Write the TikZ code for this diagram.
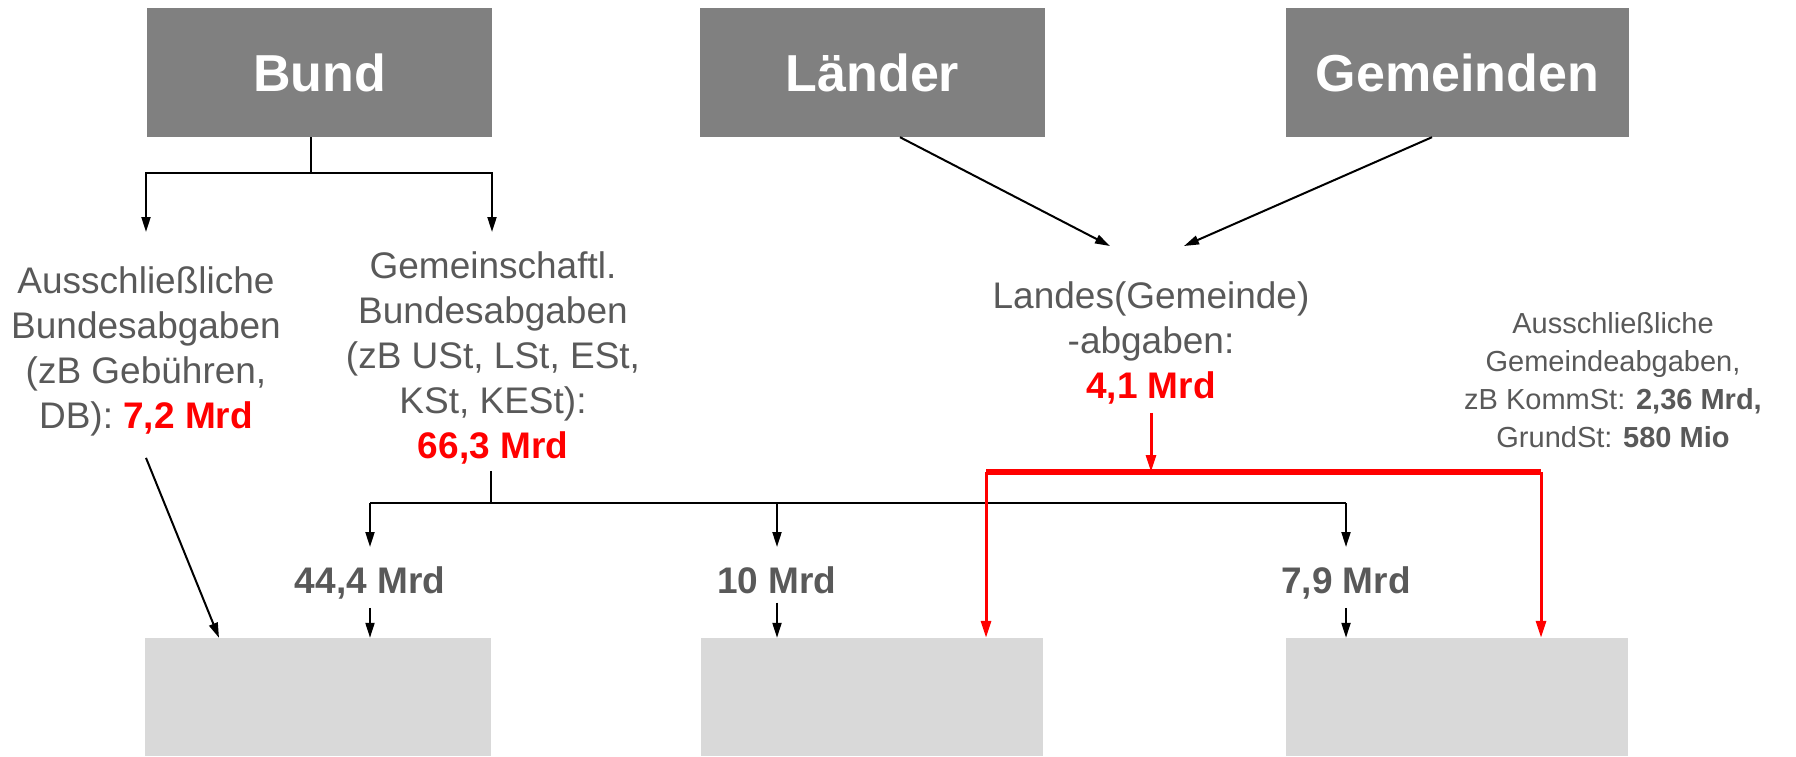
\documentclass[tikz,border=0pt]{standalone}
\usepackage{fontspec}
\setmainfont{Liberation Sans}
\usetikzlibrary{arrows.meta}
\definecolor{boxgray}{HTML}{808080}
\definecolor{lightbox}{HTML}{D9D9D9}
\definecolor{txtgray}{HTML}{595959}
\definecolor{hired}{HTML}{FF0000}
\newcommand{\amt}[1]{\textcolor{hired}{\bfseries #1}}
\begin{document}
\begin{tikzpicture}[x=1pt,y=-1pt,
  level/.style={fill=boxgray, text=white, inner sep=0,
    font=\fontsize{52}{60}\selectfont\bfseries},
  target/.style={fill=lightbox, inner sep=0},
  lbl/.style={text=txtgray, font=\fontsize{37}{45}\selectfont, align=center, inner sep=0, anchor=base},
  small/.style={text=txtgray, font=\fontsize{29}{38}\selectfont, align=center, inner sep=0, anchor=base},
  amount/.style={text=txtgray, font=\fontsize{37}{45}\selectfont\bfseries, inner sep=0, anchor=base},
  ln/.style={line width=2pt},
  arr/.style={line width=2pt, -{Triangle[length=15pt,width=9pt]}},
  rln/.style={draw=hired, line width=5.5pt},
  rarr/.style={draw=hired, line width=3pt, -{Triangle[length=17pt,width=10pt]}},
]
\useasboundingbox (0,0) rectangle (1796,756);

% levels of government
\node[level, minimum width=345pt, minimum height=129pt] (bund) at (319.5,72.5) {Bund};
\node[level, minimum width=345pt, minimum height=129pt] (laender) at (872.5,72.5) {Länder};
\node[level, minimum width=343pt, minimum height=129pt] (gemeinden) at (1457.5,72.5) {Gemeinden};

% receiving budgets
\node[target, minimum width=346pt, minimum height=118pt] (b1) at (318,697) {};
\node[target, minimum width=342pt, minimum height=118pt] (b2) at (872,697) {};
\node[target, minimum width=342pt, minimum height=118pt] (b3) at (1457,697) {};

% tax categories (positioned at the baseline of their last line)
\node[lbl] (excl) at (146,428) {Ausschließliche\\Bundesabgaben\\(zB Gebühren,\\DB): \amt{7,2 Mrd}};
\node[lbl] (gem) at (493,458) {Gemeinschaftl.\\Bundesabgaben\\(zB USt, LSt, ESt,\\KSt, KESt):\\\amt{66,3 Mrd}};
\node[lbl] (landes) at (1151,398) {Landes(Gemeinde)\\-abgaben:\\\amt{4,1 Mrd}};
\node[small] (gexcl) at (1613,447) {Ausschließliche\\Gemeindeabgaben,\\zB KommSt: \textbf{2,36 Mrd,}\\GrundSt: \textbf{580 Mio}};

% shares of the joint taxes
\node[amount] (l44) at (370,593) {44,4 Mrd};
\node[amount] (l10) at (777,593) {10 Mrd};
\node[amount] (l79) at (1346,593) {7,9 Mrd};

% branch points
\coordinate (bsplit) at (311,173);
\coordinate (bl) at (146,232);
\coordinate (br) at (492,232);
\coordinate (lin) at (1110,246);
\coordinate (gin) at (1184,246);
\coordinate (gsplit) at (491,503);
\coordinate (h1) at (370,503);
\coordinate (h2) at (777,503);
\coordinate (h3) at (1346,503);
\coordinate (rsplit) at (1151,472);
\coordinate (rl) at (986,472);
\coordinate (rr) at (1541,472);

% Bund
\draw[ln] (bund.south -| bsplit) -- (bsplit);
\draw[arr] (bsplit) -| (bl);
\draw[arr] (bsplit) -| (br);

% Länder and Gemeinden
\draw[arr] ([xshift=27.5pt]laender.south) -- (lin);
\draw[arr] ([xshift=-25.5pt]gemeinden.south) -- (gin);

% exclusive federal taxes
\draw[arr] ([yshift=-22pt]excl.south) -- ([xshift=-99pt]b1.north);

% distribution of joint taxes
\draw[ln] ([yshift=-7pt]gem.south -| gsplit) -- (gsplit);
\draw[ln] (h1) -- (h3);
\draw[arr] (h1) -- ++(0,44);
\draw[arr] (h2) -- ++(0,44);
\draw[arr] (h3) -- ++(0,44);
\draw[arr] ([yshift=-9pt]l44.south) -- (l44.south |- b1.north);
\draw[arr] ([yshift=-9pt]l10.south) -- (l10.south |- b2.north);
\draw[arr] ([yshift=-9pt]l79.south) -- (l79.south |- b3.north);

% Landes(Gemeinde)abgaben
\draw[rarr] ([yshift=-9pt]landes.south) -- (rsplit);
\draw[rln] (rl) -- (rr);
\draw[rarr] (rl) -- (rl |- b2.north);
\draw[rarr] (rr) -- (rr |- b3.north);
\end{tikzpicture}
\end{document}
